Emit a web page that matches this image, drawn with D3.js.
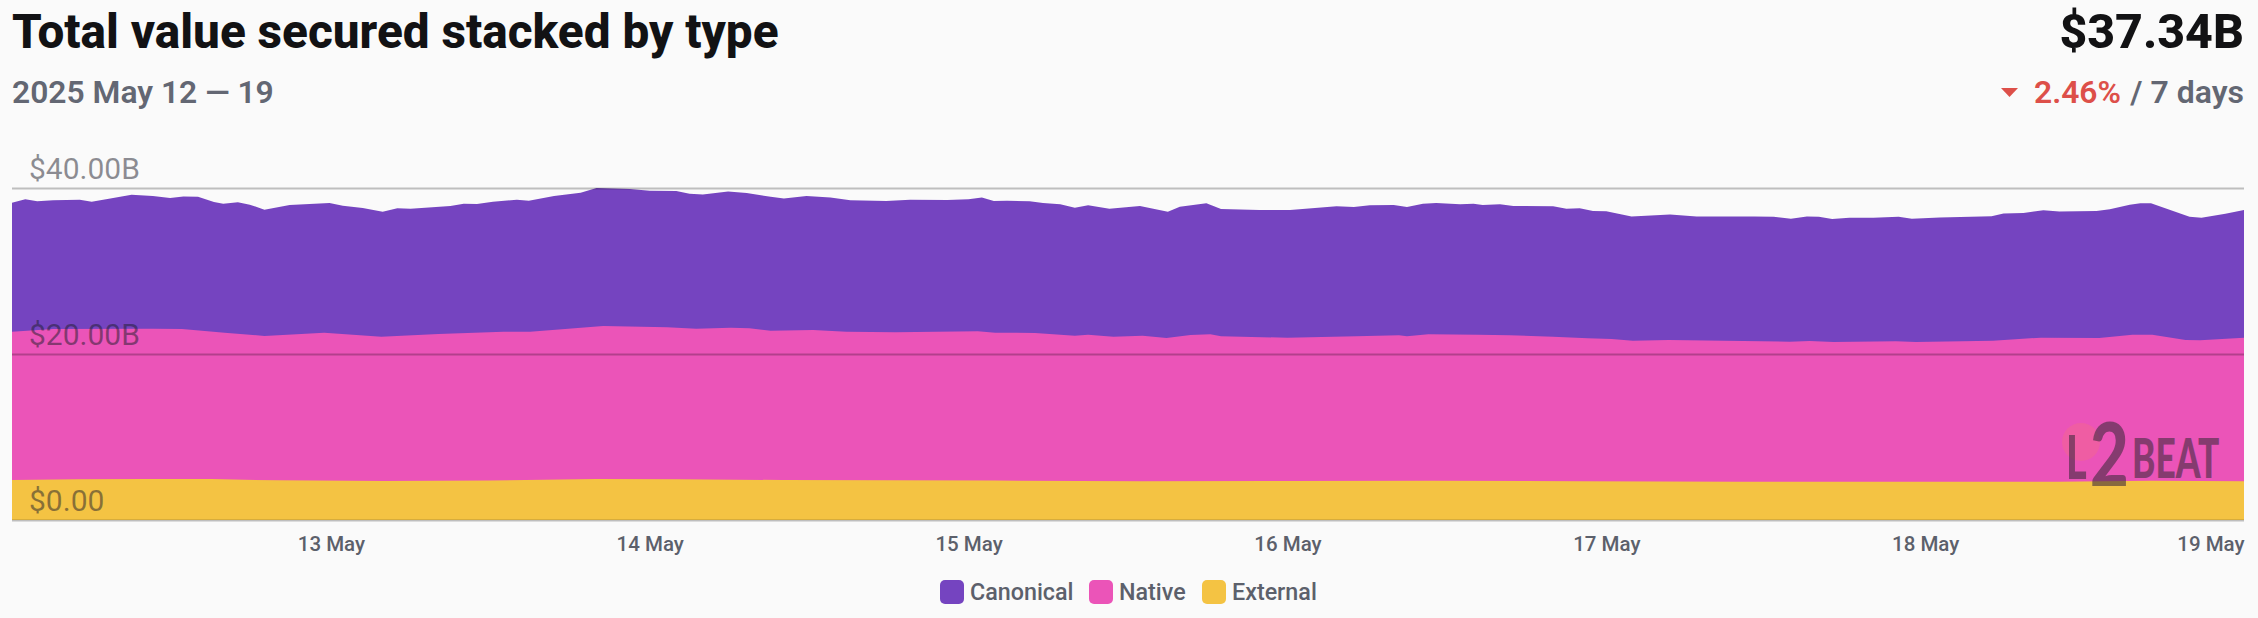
<!DOCTYPE html>
<html><head><meta charset="utf-8">
<script src="https://cdn.jsdelivr.net/npm/d3@7"></script>
<style>
html,body{margin:0;padding:0;background:#fafafa;overflow:hidden}
svg{display:block;font-family:Roboto,sans-serif}
</style></head><body><svg id="c" width="2258" height="618"></svg>
<script>
// Readings from the picture: [hours since 12 May 00:00, cumulative $B]
const totalTop = [[0,38.23],[1,38.63],[1.9,38.39],[3.1,38.51],[5.1,38.59],[6,38.35],[7.4,38.75],[9,39.19],[10.6,39.03],[11.9,38.79],[12.9,38.99],[14,38.95],[15.2,38.31],[15.9,38.11],[17,38.27],[17.9,37.99],[19,37.39],[20.9,37.95],[23.9,38.19],[24.9,37.87],[26.4,37.59],[27.9,37.14],[29,37.55],[30,37.51],[33,37.83],[34,38.11],[35,38.07],[36.2,38.35],[38,38.59],[38.9,38.47],[40.8,39.03],[42.8,39.43],[44,40.0],[46.5,39.88],[48,39.67],[50,39.63],[51,39.31],[52,39.23],[53.9,39.59],[55.3,39.39],[57.1,38.95],[58.1,38.75],[59.8,39.03],[61.6,38.87],[63.1,38.51],[65.8,38.43],[67.6,38.59],[70.4,38.55],[72,38.63],[73,38.87],[73.9,38.43],[74.9,38.47],[76.6,38.40],[77.6,38.19],[78.9,38.03],[80,37.63],[81,37.91],[82.6,37.51],[84.9,37.83],[87,37.14],[87.9,37.75],[89.9,38.15],[91,37.47],[93.9,37.35],[96.2,37.35],[99.7,37.79],[101,37.71],[102.2,37.91],[104,37.95],[105,37.71],[106.2,38.11],[107.2,38.19],[109,38.03],[110,38.11],[110.7,37.95],[112,38.03],[113,37.83],[116,37.79],[117,37.51],[118,37.55],[119,37.23],[120,37.19],[121.9,36.58],[124.8,36.82],[126.8,36.58],[131.1,36.58],[132.6,36.54],[133.9,36.30],[135.1,36.58],[136,36.54],[137,36.26],[138.3,36.42],[140.1,36.42],[142,36.54],[143,36.30],[145.1,36.46],[149,36.60],[149.9,36.92],[151.4,36.98],[152.9,37.33],[154.1,37.18],[156.9,37.23],[157.9,37.43],[159.4,37.99],[160.2,38.15],[161,38.15],[163.9,36.54],[164.8,36.42],[166.6,36.90],[168,37.35]];
const nativeTop = [[0,22.69],[3.1,23.01],[10.6,23.05],[12.8,23.01],[16,22.57],[19,22.17],[23.5,22.57],[27.8,22.09],[32.1,22.41],[37,22.69],[39,22.69],[44.5,23.37],[49.3,23.21],[51.5,23.05],[54.1,23.17],[55.5,23.09],[57.1,22.81],[60.3,22.89],[62.8,22.69],[66.5,22.61],[72.7,22.73],[74,22.57],[77,22.53],[80,22.21],[81,22.33],[82.9,22.09],[85.1,22.21],[86.9,21.92],[88.7,22.29],[90.2,22.37],[91,22.13],[96,21.96],[101.2,22.13],[104.4,22.25],[105,22.13],[106.6,22.37],[110.3,22.33],[112.7,22.25],[116,22.09],[118.6,21.89],[120.4,21.81],[122,21.61],[124.7,21.69],[133.8,21.49],[135.3,21.57],[137.1,21.45],[141.8,21.53],[143.3,21.45],[149.1,21.61],[152.7,21.97],[157.1,21.93],[159.6,22.33],[161.1,22.33],[163.6,21.69],[164.7,21.65],[168,21.97]];
const externalTop = [[0,4.82],[5,4.90],[10,4.95],[15,4.93],[20,4.78],[28,4.70],[36,4.75],[44,4.93],[50,4.90],[58,4.82],[66,4.78],[74,4.75],[85,4.68],[96,4.70],[107,4.74],[118,4.66],[130,4.60],[142,4.60],[154,4.62],[161,4.72],[168,4.67]];
const yTicks = [0,20,40];
const yTickLabels = ["$0.00","$20.00B","$40.00B"];
const xTicks = [24,48,72,96,120,144,168];
const xTickLabels = ["13 May","14 May","15 May","16 May","17 May","18 May","19 May"];
const seriesNames = ["Canonical","Native","External"];
const seriesColors = ["#7544c0","#eb54b8","#f4c343"];

const svg = d3.select("#c");
const L=12,R=2244,T=188,B=520;
const x = d3.scaleLinear().domain([0,168]).range([L,R]);
const y = d3.scaleLinear().domain([0,40]).range([B,T]);
const area = d3.area().x(d=>x(d[0])).y0(y(0)).y1(d=>y(d[1])).curve(d3.curveLinear);

[totalTop,nativeTop,externalTop].forEach((s,i)=>svg.append("path").attr("d",area(s)).attr("fill",seriesColors[i]));

// logo watermark
const logo = svg.append("g");
logo.append("circle").attr("cx",2081).attr("cy",442).attr("r",19).attr("fill","#f0609c").attr("opacity",.75);
const logoText=(t,px,py,fs,sx,w)=>logo.append("text").text(t).attr("transform",`translate(${px},${py}) scale(${sx},1)`)
  .attr("font-size",fs).attr("font-weight",w).attr("font-family","Lato,Roboto,sans-serif").attr("fill","#3c2a3c").attr("opacity",.58);
logoText("L",2066,479,60,.66,900);
logoText("2",2090,486,88,.76,900);
logoText("BEAT",2132,478,56,.63,900);

// gridlines & y labels
const yAxis = d3.axisLeft(y).tickValues(yTicks).tickSize(-(R-L)).tickFormat((d,i)=>yTickLabels[i]);
const gy = svg.append("g").attr("transform",`translate(${L},0)`).call(yAxis);
gy.select(".domain").remove();
gy.selectAll("line").attr("stroke","#000").attr("stroke-opacity",.24).attr("stroke-width",2);
gy.selectAll("text").attr("x",17).attr("dy",-10).attr("text-anchor","start").attr("font-size",30)
  .attr("font-family","Roboto,sans-serif").attr("fill","#1d1d2b").attr("fill-opacity",.5);

// x axis
const xAxis = d3.axisBottom(x).tickValues(xTicks).tickSize(0).tickFormat((d,i)=>xTickLabels[i]);
const gx = svg.append("g").attr("transform",`translate(0,${B})`).call(xAxis);
gx.select(".domain").remove();
gx.selectAll("text").attr("y",31).attr("dy",0).attr("font-size",20.5).attr("font-weight",500)
  .attr("font-family","Roboto,sans-serif").attr("fill","#5c606b")
  .attr("text-anchor",(d,i)=>i===xTicks.length-1?"end":"middle");

// header
const txt=(t,px,py,fs,w,f,a)=>svg.append("text").text(t).attr("x",px).attr("y",py).attr("font-size",fs).attr("font-weight",w).attr("fill",f).attr("text-anchor",a||"start");
txt("Total value secured stacked by type",12,48,47.7,800,"#121214");
txt("2025 May 12 — 19",12,103,31.8,600,"#636773");
txt("$37.34B",2244,48,48.3,800,"#121214","end");
txt("/ 7 days",2244,103,32,600,"#636773","end");
txt("2.46%",2121,103,31.8,600,"#dd4f49","end");
svg.append("path").attr("d",d3.line()([[2001,88],[2018,88],[2009.5,97]])+"Z").attr("fill","#dd4f49");

// legend
const legendX=[940,1089,1202];
seriesNames.forEach((n,i)=>{
  svg.append("rect").attr("x",legendX[i]).attr("y",580).attr("width",24).attr("height",24).attr("rx",5).attr("fill",seriesColors[i]);
  txt(n,legendX[i]+30,600,23.3,500,"#5c606b");
});
</script></body></html>
